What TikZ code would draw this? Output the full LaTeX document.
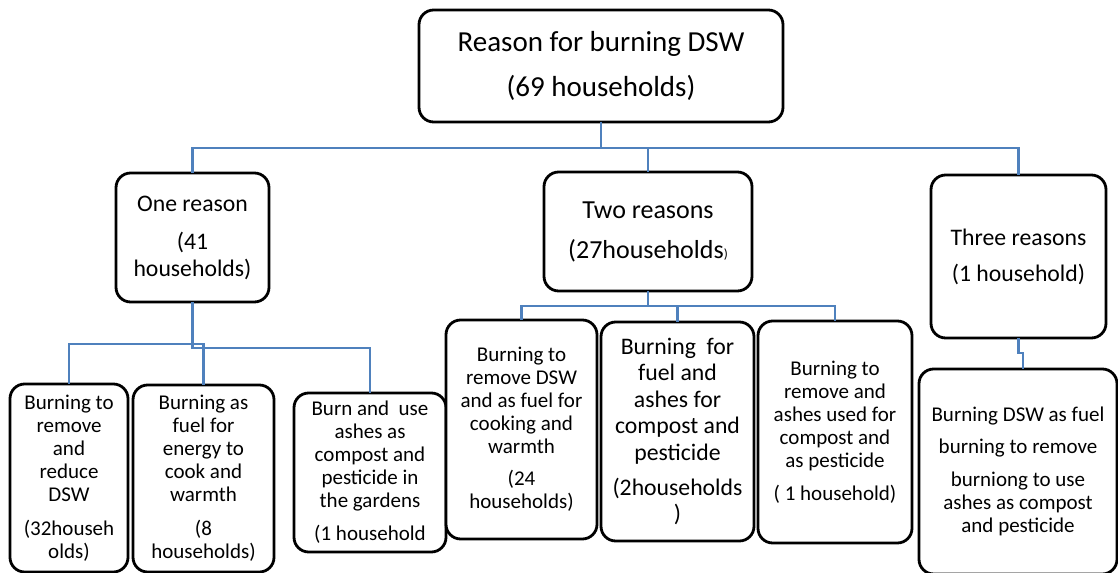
\documentclass[tikz,border=0pt]{standalone}
\usepackage{fontspec}
\setmainfont{Carlito}
\usetikzlibrary{calc}
\definecolor{linkblue}{RGB}{79,129,189}
\begin{document}
\begin{tikzpicture}[x=0.75pt,y=-0.75pt,
  box/.style={draw=black, line width=2.1pt, rounded corners=11pt, align=center,
    inner sep=0pt, outer sep=0pt, fill=white},
  link/.style={draw=linkblue, line width=1.8pt},
  leaf/.style={font=\fontsize{15.75pt}{17.25pt}\selectfont},
  midfont/.style={font=\fontsize{17.8pt}{20.25pt}\selectfont},
]
\useasboundingbox (0,0) rectangle (1118,573);

% top level
\node[box, minimum width=273pt, minimum height=84pt,
  font=\fontsize{21.75pt}{33.75pt}\selectfont] (root) at (601,66)
  {Reason for burning DSW\\(69 households)};

% number of reasons
\node[box, midfont, minimum width=114.75pt, minimum height=96.75pt] (one) at (192.5,237.5)
  {One reason\\[8.25pt](41\\households)};
\node[box, minimum width=156pt, minimum height=89.25pt,
  font=\fontsize{19.5pt}{30pt}\selectfont] (two) at (648,231.5)
  {Two reasons\\(27households{\fontsize{10pt}{10pt}\selectfont)}};
\node[box, minimum width=131.25pt, minimum height=122.25pt,
  font=\fontsize{17.8pt}{27pt}\selectfont] (three) at (1018.5,256.5)
  {Three reasons\\(1 household)};

% one reason
\node[box, leaf, minimum width=88.5pt, minimum height=141pt] (L1) at (69,478)
  {Burning to\\remove\\and\\reduce\\DSW\\[8.25pt](32househ\\olds)};
\node[box, leaf, minimum width=105.75pt, minimum height=140.25pt] (L2) at (203.5,478.5)
  {Burning as\\fuel for\\energy to\\cook and\\warmth\\[8.25pt](8\\households)};
\node[box, leaf, minimum width=114pt, minimum height=119.25pt] (L3) at (370,472.5)
  {Burn and\ \ use\\ashes as\\compost and\\pesticide in\\the gardens\\[7.5pt](1 household};

% two reasons
\node[box, leaf, minimum width=113.25pt, minimum height=164.25pt] (M1) at (521.5,429.5)
  {Burning to\\remove DSW\\and as fuel for\\cooking and\\warmth\\[6.75pt](24\\households)};
\node[box, minimum width=114.75pt, minimum height=164.25pt,
  font=\fontsize{17.8pt}{19.9pt}\selectfont] (M2) at (677.5,431.5)
  {Burning\ \ for\\fuel and\\ashes for\\compost and\\pesticide\\[6.35pt](2households\\)};
\node[box, leaf, minimum width=115.5pt, minimum height=166.5pt] (M3) at (835,432)
  {Burning to\\remove and\\ashes used for\\compost and\\as pesticide\\[7.5pt]( 1 household)};

% three reasons
\node[box, leaf, minimum width=148.5pt, minimum height=153.75pt] (R1) at (1018,471.5)
  {Burning DSW as fuel\\[6.75pt]burning to remove\\[7.5pt]burniong to use\\ashes as compost\\and pesticide};

% connectors
\draw[link] (root.south) -- ++(0,26) -| (one.north);
\draw[link] (root.south) |- ($(two.north)+(0,-24)$) -- (two.north);
\draw[link] (root.south) -- ++(0,26) -| (three.north);

\draw[link] (one.south) -- ++(0,42) -| (L1.north);
\draw[link] (one.south) -- ++(0,42) -| (L2.north);
\draw[link] (one.south) -- ++(0,46) -| (L3.north);

\draw[link] (two.south) -- ++(0,15) -| (M1.north);
\draw[link] (two.south) -- ++(0,15) -| (M2.north);
\draw[link] (two.south) -- ++(0,15) -| (M3.north);

\draw[link] (three.south) -- ++(0,15) -| ($(R1.north)+(5,0)$);
\end{tikzpicture}
\end{document}
